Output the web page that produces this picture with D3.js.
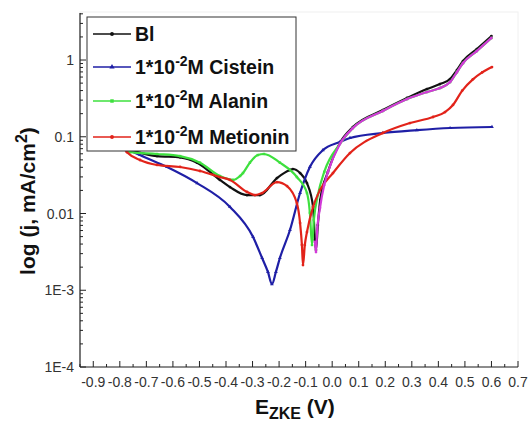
<!DOCTYPE html>
<html>
<head>
<meta charset="utf-8">
<script src="https://cdn.jsdelivr.net/npm/d3@7"></script>
<style>
  body { margin: 0; background: #fff; }
  svg { font-family: Arial, "Liberation Sans", sans-serif; }
</style>
</head>
<body>
<script>
// Potential (V vs ZKE) and current density (mA/cm2) for each curve
const blV = [-0.80, -0.773, -0.735, -0.660, -0.573, -0.509, -0.423, -0.385, -0.321, -0.272, -0.208, -0.159, -0.148, -0.121, -0.095, -0.072, -0.065, -0.061, -0.054, -0.045, -0.016, 0.029, 0.078, 0.191, 0.282, 0.357, 0.406, 0.444, 0.470, 0.493, 0.545, 0.600];
const blJ = [0.088, 0.067, 0.063, 0.056, 0.054, 0.046, 0.0274, 0.0221, 0.0174, 0.0174, 0.029, 0.0369, 0.038, 0.0337, 0.0249, 0.0122, 0.00452, 0.00334, 0.00708, 0.015, 0.0348, 0.083, 0.134, 0.223, 0.32, 0.419, 0.486, 0.565, 0.741, 0.97, 1.39, 2.05];

const cisV = [-0.80, -0.762, -0.724, -0.622, -0.509, -0.385, -0.298, -0.264, -0.242, -0.227, -0.212, -0.197, -0.159, -0.121, -0.084, -0.035, 0.029, 0.067, 0.191, 0.319, 0.444, 0.602];
const cisJ = [0.088, 0.067, 0.0578, 0.0404, 0.0249, 0.0122, 0.00494, 0.00263, 0.00173, 0.00120, 0.00173, 0.00263, 0.0061, 0.0185, 0.0404, 0.067, 0.0855, 0.0964, 0.112, 0.122, 0.13, 0.134];

const alaV = [-0.80, -0.762, -0.660, -0.573, -0.498, -0.423, -0.374, -0.347, -0.336, -0.310, -0.280, -0.257, -0.197, -0.133, -0.095, -0.084, -0.076, -0.069, -0.054, -0.030, 0.029, 0.078, 0.191, 0.282, 0.357, 0.406, 0.444, 0.470, 0.493, 0.545, 0.600];
const alaJ = [0.088, 0.063, 0.0596, 0.056, 0.046, 0.0308, 0.0274, 0.0308, 0.0337, 0.046, 0.0578, 0.0596, 0.046, 0.0299, 0.0185, 0.0102, 0.00389, 0.00822, 0.0174, 0.0348, 0.0805, 0.13, 0.217, 0.31, 0.383, 0.431, 0.516, 0.698, 0.914, 1.31, 1.94];

const metV = [-0.80, -0.773, -0.724, -0.660, -0.573, -0.498, -0.423, -0.385, -0.321, -0.291, -0.264, -0.208, -0.170, -0.133, -0.121, -0.114, -0.110, -0.103, -0.095, -0.072, -0.046, 0.003, 0.067, 0.191, 0.293, 0.380, 0.425, 0.455, 0.490, 0.530, 0.565, 0.602];
const metJ = [0.083, 0.063, 0.0498, 0.0429, 0.0404, 0.0358, 0.0299, 0.0274, 0.0191, 0.0174, 0.0185, 0.0257, 0.0228, 0.0137, 0.00752, 0.00389, 0.00213, 0.00389, 0.00574, 0.0122, 0.0202, 0.0337, 0.0614, 0.112, 0.151, 0.181, 0.21, 0.26, 0.40, 0.56, 0.69, 0.811];

// extra (unlabelled) magenta curve lying on top of the blank anodic branch
const magV = [-0.065, -0.061, -0.057, -0.046, -0.030, -0.016, 0.029, 0.078, 0.191, 0.282, 0.357, 0.406, 0.444, 0.470, 0.493, 0.545, 0.600];
const magJ = [0.00426, 0.00315, 0.00574, 0.0118, 0.0235, 0.0348, 0.0805, 0.13, 0.217, 0.31, 0.383, 0.431, 0.516, 0.698, 0.914, 1.31, 1.94];

const xTicks = [-0.9, -0.8, -0.7, -0.6, -0.5, -0.4, -0.3, -0.2, -0.1, 0.0, 0.1, 0.2, 0.3, 0.4, 0.5, 0.6, 0.7];
const yTicks = [1e-4, 1e-3, 1e-2, 1e-1, 1];
const yTickLabels = ["1E-4", "1E-3", "0.01", "0.1", "1"];

const legendLabels = ["Bl", "Cistein", "Alanin", "Metionin"];

const W = 529, H = 423;
const svg = d3.select("body").append("svg")
    .attr("width", W)
    .attr("height", H);

const x = d3.scaleLinear().domain([-0.95, 0.7]).range([80, 518]);
const y = d3.scaleLog().domain([1e-4, 4.1]).range([367, 13]);

// faint outer frame
svg.append("rect")
    .attr("x", x.range()[0]).attr("y", 12)
    .attr("width", x.range()[1] - x.range()[0])
    .attr("height", y.range()[0] - 12)
    .attr("fill", "none")
    .attr("stroke", "#f0f0f0");

// curves
const series = [
  { v: blV, j: blJ, color: "#111111", sym: "circle" },
  { v: cisV, j: cisJ, color: "#1f1fa6", sym: "triangle" },
  { v: alaV, j: alaJ, color: "#3ee03e", sym: "square" },
  { v: metV, j: metJ, color: "#e2231a", sym: "circle" },
  { v: magV, j: magJ, color: "#d23ad8", sym: "circle" }
];

const line = d3.line()
    .x(d => x(d[0]))
    .y(d => y(d[1]))
    .curve(d3.curveMonotoneX);

const symTypes = { circle: d3.symbolCircle, triangle: d3.symbolTriangle, square: d3.symbolSquare };

series.forEach(s => {
  const pts = s.v.map((v, i) => [v, s.j[i]]);
  svg.append("path")
      .datum(pts)
      .attr("fill", "none")
      .attr("stroke", s.color)
      .attr("stroke-width", 2.2)
      .attr("d", line);
  svg.selectAll(null)
      .data(pts)
      .enter().append("path")
      .attr("transform", d => "translate(" + x(d[0]) + "," + y(d[1]) + ")")
      .attr("d", d3.symbol().type(symTypes[s.sym]).size(6))
      .attr("fill", s.color);
});

// x axis
const xAxis = svg.append("g").attr("transform", "translate(0," + y.range()[0] + ")");
xAxis.append("line")
    .attr("x1", x.range()[0]).attr("x2", x.range()[1])
    .attr("stroke", "#222").attr("stroke-width", 1.2);
xAxis.selectAll(".maj").data(xTicks).enter().append("line")
    .attr("x1", d => x(d)).attr("x2", d => x(d))
    .attr("y1", 0).attr("y2", -6)
    .attr("stroke", "#222");
xAxis.selectAll(".min").data(xTicks.map(d => d - 0.05)).enter().append("line")
    .attr("x1", d => x(d)).attr("x2", d => x(d))
    .attr("y1", 0).attr("y2", -3)
    .attr("stroke", "#222");
xAxis.selectAll(".lab").data(xTicks).enter().append("text")
    .attr("x", d => x(d))
    .attr("y", 20)
    .attr("text-anchor", "middle")
    .attr("font-size", 14)
    .attr("fill", "#333")
    .text(d => d.toFixed(1));

// y axis
const yAxis = svg.append("g").attr("transform", "translate(" + x.range()[0] + ",0)");
yAxis.append("line")
    .attr("y1", y.range()[0]).attr("y2", y.range()[1])
    .attr("stroke", "#222").attr("stroke-width", 1.2);
yAxis.selectAll(".maj").data(yTicks).enter().append("line")
    .attr("y1", d => y(d)).attr("y2", d => y(d))
    .attr("x1", 0).attr("x2", 6)
    .attr("stroke", "#222");
const minorY = [];
yTicks.forEach(t => { for (let k = 2; k <= 9; k++) if (t * k <= 4.1) minorY.push(t * k); });
yAxis.selectAll(".min").data(minorY).enter().append("line")
    .attr("y1", d => y(d)).attr("y2", d => y(d))
    .attr("x1", 0).attr("x2", 3)
    .attr("stroke", "#222");
yAxis.selectAll(".lab").data(yTicks).enter().append("text")
    .attr("x", -6)
    .attr("y", d => y(d) + 5)
    .attr("text-anchor", "end")
    .attr("font-size", 14)
    .attr("fill", "#333")
    .text((d, i) => yTickLabels[i]);

// axis titles
const yt = svg.append("text")
    .attr("transform", "translate(35,201) rotate(-90)")
    .attr("text-anchor", "middle")
    .attr("font-size", 21)
    .attr("font-weight", "bold")
    .attr("fill", "#111");
yt.append("tspan").text("log (j, mA/cm");
yt.append("tspan").attr("dy", -8).attr("font-size", 16).text("2");
yt.append("tspan").attr("dy", 8).text(")");

const xt = svg.append("text")
    .attr("x", 255).attr("y", 414)
    .attr("font-size", 21)
    .attr("font-weight", "bold")
    .attr("fill", "#111");
xt.append("tspan").text("E");
xt.append("tspan").attr("dy", 5).attr("font-size", 16).text("ZKE");
xt.append("tspan").attr("dy", -5).text(" (V)");

// legend
const lg = svg.append("g");
lg.append("rect")
    .attr("x", 87).attr("y", 17)
    .attr("width", 209).attr("height", 134)
    .attr("fill", "#fff")
    .attr("stroke", "#333").attr("stroke-width", 1);
const rowY = [34, 67, 101, 137];
legendLabels.forEach((lab, i) => {
  const s = series[i];
  lg.append("line")
      .attr("x1", 93).attr("x2", 131)
      .attr("y1", rowY[i]).attr("y2", rowY[i])
      .attr("stroke", s.color).attr("stroke-width", 1.5);
  lg.append("path")
      .attr("transform", "translate(112," + rowY[i] + ")")
      .attr("d", d3.symbol().type(symTypes[s.sym]).size(12))
      .attr("fill", s.color);
  const t = lg.append("text")
      .attr("x", 135).attr("y", rowY[i] + 7)
      .attr("font-size", 19.5)
      .attr("font-weight", "bold")
      .attr("fill", "#111");
  if (i === 0) {
    t.text(lab);
  } else {
    t.append("tspan").text("1*10");
    t.append("tspan").attr("dy", -8).attr("font-size", 14).text("-2");
    t.append("tspan").attr("dy", 8).text("M " + lab);
  }
});
</script>
</body>
</html>
